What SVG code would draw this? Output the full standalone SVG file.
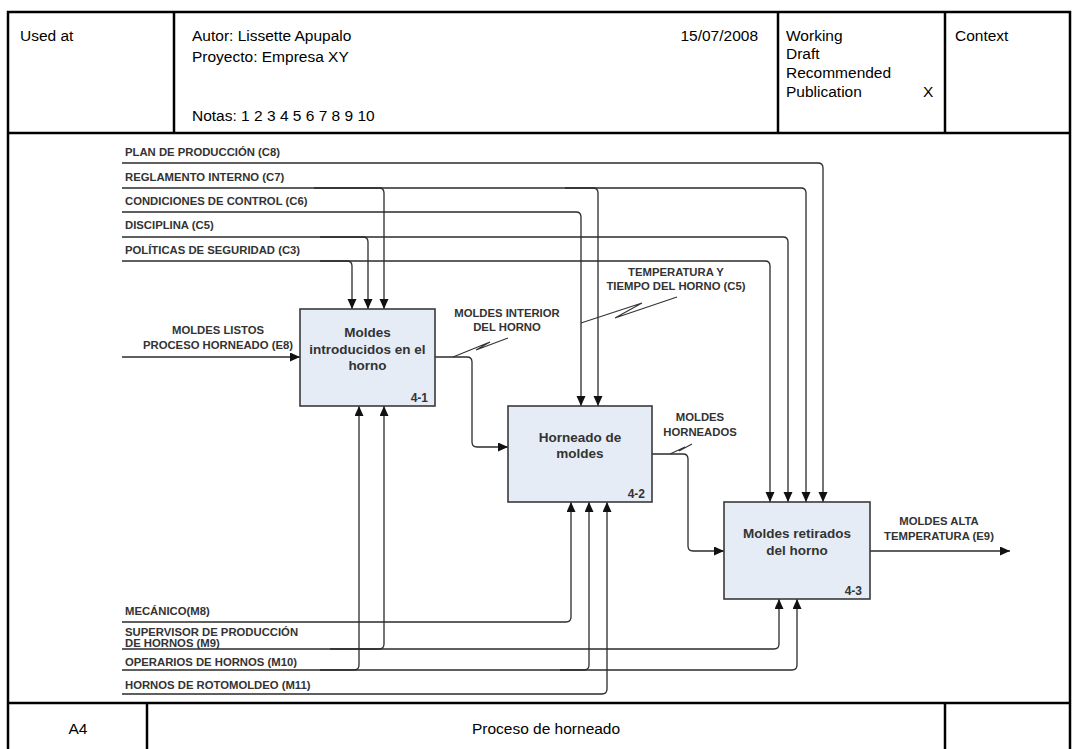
<svg xmlns="http://www.w3.org/2000/svg" width="1078" height="749" viewBox="0 0 1078 749">
  <style>
    .frame { fill: none; stroke: #000; stroke-width: 2.5; }
    .hdr { font-family: "Liberation Sans", Arial, sans-serif; font-size: 15.5px; fill: #000; }
    .lbl { font-family: "Liberation Sans", Arial, sans-serif; font-size: 11.3px; font-weight: bold; fill: #333; }
    .mid { text-anchor: middle; }
    .box { fill: #e6ecf6; stroke: #3a3a3a; stroke-width: 1.6; }
    .btxt { font-family: "Liberation Sans", Arial, sans-serif; font-size: 13.5px; font-weight: bold; fill: #333; text-anchor: middle; }
    .bnum { font-family: "Liberation Sans", Arial, sans-serif; font-size: 12px; font-weight: bold; fill: #333; text-anchor: end; }
    .ln { fill: none; stroke: #2b2b2b; stroke-width: 1.3; }
    .arr { marker-end: url(#head); }
    .sq { fill: none; stroke: #333; stroke-width: 1.1; }
  </style>
  <defs>
    <marker id="head" markerUnits="userSpaceOnUse" markerWidth="11" markerHeight="10" refX="10" refY="4.5" orient="auto">
      <path d="M0,0 L10,4.5 L0,9 z" fill="#111"/>
    </marker>
  </defs>

  <rect width="1078" height="749" fill="#fff"/>

  <!-- title block frame -->
  <g id="frame">
    <path class="frame" d="M8,760 V12 H1070 V760"/>
    <line class="frame" x1="8" y1="133" x2="1070" y2="133"/>
    <line class="frame" x1="174" y1="12" x2="174" y2="133"/>
    <line class="frame" x1="778" y1="12" x2="778" y2="133"/>
    <line class="frame" x1="945" y1="12" x2="945" y2="133"/>
    <line class="frame" x1="8" y1="703" x2="1070" y2="703"/>
    <line class="frame" x1="147" y1="703" x2="147" y2="760"/>
    <line class="frame" x1="945" y1="703" x2="945" y2="760"/>
    <text class="hdr" x="20" y="41">Used at</text>
    <text class="hdr" x="192" y="41">Autor: Lissette Apupalo</text>
    <text class="hdr" x="192" y="62">Proyecto: Empresa XY</text>
    <text class="hdr" x="192" y="121">Notas: 1 2 3 4 5 6 7 8 9 10</text>
    <text class="hdr" x="758" y="41" text-anchor="end">15/07/2008</text>
    <text class="hdr" x="786" y="41">Working</text>
    <text class="hdr" x="786" y="59">Draft</text>
    <text class="hdr" x="786" y="78">Recommended</text>
    <text class="hdr" x="786" y="97">Publication</text>
    <text class="hdr" x="923" y="97">X</text>
    <text class="hdr" x="955" y="41">Context</text>
    <text class="hdr mid" x="78" y="734">A4</text>
    <text class="hdr mid" x="546" y="734">Proceso de horneado</text>
  </g>

  <!-- connectors: controls, mechanisms, inputs and outputs -->
  <g id="connectors">
    <!-- controls -->
    <path class="ln arr" d="M122,163 H818 Q823,163 823,168 V502"/>
    <path class="ln arr" d="M122,188 H801 Q806,188 806,193 V502"/>
    <path class="ln arr" d="M314,188 H379 Q384,188 384,193 V309"/>
    <path class="ln arr" d="M565,188 H593 Q598,188 598,193 V406"/>
    <path class="ln arr" d="M122,212 H576 Q581,212 581,217 V406"/>
    <path class="ln arr" d="M122,237 H783 Q788,237 788,242 V502"/>
    <path class="ln arr" d="M320,237 H363 Q368,237 368,242 V309"/>
    <path class="ln arr" d="M122,261 H765 Q770,261 770,266 V502"/>
    <path class="ln arr" d="M320,261 H347 Q352,261 352,266 V309"/>
    <!-- mechanisms -->
    <path class="ln arr" d="M122,622 H566 Q571,622 571,617 V502"/>
    <path class="ln arr" d="M122,649 H774 Q779,649 779,644 V599"/>
    <path class="ln arr" d="M330,649 H379 Q384,649 384,644 V406"/>
    <path class="ln arr" d="M122,670 H792 Q797,670 797,665 V599"/>
    <path class="ln arr" d="M320,670 H354 Q359,670 359,665 V406"/>
    <path class="ln arr" d="M560,670 H584 Q589,670 589,665 V502"/>
    <path class="ln arr" d="M122,694 H602 Q607,694 607,689 V502"/>
    <!-- inputs / outputs -->
    <path class="ln arr" d="M122,357 H300"/>
    <path class="ln arr" d="M435,357 H467 Q472,357 472,362 V442 Q472,447 477,447 H508"/>
    <path class="ln arr" d="M652,454 H683 Q688,454 688,459 V546 Q688,551 693,551 H724"/>
    <path class="ln arr" d="M870,551 H1010"/>
    <!-- label ticks -->
    <polyline class="sq" points="453,357 490,342 476,350 508,338"/>
    <polyline class="sq" points="581,323 642,303 615,318 677,297"/>
    <polyline class="sq" points="670,454 685,447 679,451 692,444"/>
    <!-- arrow labels -->
    <text class="lbl" x="125" y="156">PLAN DE PRODUCCIÓN (C8)</text>
    <text class="lbl" x="125" y="181">REGLAMENTO INTERNO (C7)</text>
    <text class="lbl" x="125" y="205">CONDICIONES DE CONTROL (C6)</text>
    <text class="lbl" x="125" y="229">DISCIPLINA (C5)</text>
    <text class="lbl" x="125" y="254">POLÍTICAS DE SEGURIDAD (C3)</text>
    <text class="lbl mid" x="218" y="334">MOLDES LISTOS</text>
    <text class="lbl mid" x="218" y="349">PROCESO HORNEADO (E8)</text>
    <text class="lbl mid" x="507" y="317">MOLDES INTERIOR</text>
    <text class="lbl mid" x="507" y="331">DEL HORNO</text>
    <text class="lbl mid" x="676" y="276">TEMPERATURA Y</text>
    <text class="lbl mid" x="676" y="290">TIEMPO DEL HORNO (C5)</text>
    <text class="lbl mid" x="700" y="421">MOLDES</text>
    <text class="lbl mid" x="700" y="436">HORNEADOS</text>
    <text class="lbl mid" x="939" y="525">MOLDES ALTA</text>
    <text class="lbl mid" x="939" y="540">TEMPERATURA (E9)</text>
    <text class="lbl" x="125" y="615">MECÁNICO(M8)</text>
    <text class="lbl" x="125" y="636">SUPERVISOR DE PRODUCCIÓN</text>
    <text class="lbl" x="125" y="647">DE HORNOS (M9)</text>
    <text class="lbl" x="125" y="666">OPERARIOS DE HORNOS (M10)</text>
    <text class="lbl" x="125" y="689">HORNOS DE ROTOMOLDEO (M11)</text>
  </g>

  <g id="box-4-1">
    <rect class="box" x="300" y="309" width="135" height="97"/>
    <text class="btxt" x="367.5" y="337">Moldes</text>
    <text class="btxt" x="367.5" y="354">introducidos en el</text>
    <text class="btxt" x="367.5" y="370">horno</text>
    <text class="bnum" x="428" y="402">4-1</text>
  </g>

  <g id="box-4-2">
    <rect class="box" x="508" y="406" width="144" height="96"/>
    <text class="btxt" x="580" y="442">Horneado de</text>
    <text class="btxt" x="580" y="458">moldes</text>
    <text class="bnum" x="645" y="498">4-2</text>
  </g>

  <g id="box-4-3">
    <rect class="box" x="724" y="502" width="146" height="97"/>
    <text class="btxt" x="797" y="538">Moldes retirados</text>
    <text class="btxt" x="797" y="555">del horno</text>
    <text class="bnum" x="862" y="595">4-3</text>
  </g>
</svg>
